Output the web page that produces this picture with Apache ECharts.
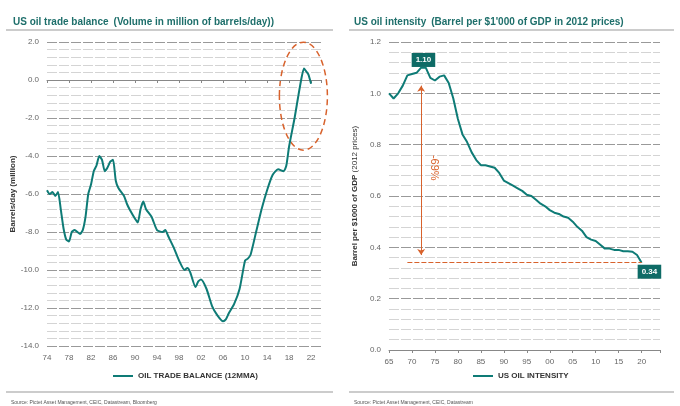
<!DOCTYPE html><html><head><meta charset="utf-8"><script src="https://cdn.jsdelivr.net/npm/echarts@6/dist/echarts.min.js"></script>
<style>html,body{margin:0;padding:0;background:#fff}#c{width:680px;height:406px}</style></head><body><div id="c"></div><script>
const balanceX=[1974,1974.5,1975,1975.5,1976,1976.5,1977,1977.5,1978,1978.5,1979,1980,1980.5,1981,1981.5,1982,1982.5,1983,1983.5,1984,1984.5,1985,1985.5,1986,1986.5,1987,1988,1988.5,1989,1990,1990.5,1991,1991.5,1992,1993,1994,1995,1995.5,1996,1997,1998,1999,1999.5,2000,2001,2001.5,2002,2003,2004,2005,2006,2006.5,2007,2008,2009,2010,2010.5,2011,2012,2013,2014,2015,2016,2017,2017.5,2018,2019,2020,2020.7,2021,2021.5,2022];
const balanceY=[-5.8,-6.0,-5.9,-6.1,-5.9,-6.8,-7.8,-8.4,-8.5,-8.0,-7.9,-8.1,-7.9,-7.2,-6.0,-5.5,-4.8,-4.5,-4.0,-4.2,-4.8,-4.6,-4.3,-4.2,-5.3,-5.7,-6.1,-6.5,-6.8,-7.3,-7.5,-6.8,-6.4,-6.8,-7.2,-7.9,-8.0,-7.9,-8.2,-8.8,-9.5,-10.0,-9.9,-10.1,-10.9,-10.6,-10.5,-11.0,-11.9,-12.4,-12.7,-12.6,-12.3,-11.8,-11.0,-9.5,-9.4,-9.2,-8.0,-6.8,-5.8,-5.0,-4.7,-4.8,-4.5,-3.5,-2.0,-0.3,0.6,0.5,0.3,-0.2];
const intensityX=[];for(let y=1965;y<=2020;y++)intensityX.push(y);
const intensityY=[1.00,0.98,1.00,1.03,1.07,1.075,1.08,1.10,1.10,1.06,1.05,1.065,1.07,1.04,0.98,0.90,0.84,0.81,0.77,0.74,0.72,0.72,0.715,0.71,0.69,0.66,0.65,0.64,0.63,0.62,0.605,0.60,0.585,0.57,0.56,0.545,0.535,0.53,0.52,0.515,0.50,0.48,0.465,0.44,0.43,0.425,0.41,0.395,0.395,0.39,0.39,0.385,0.385,0.383,0.37,0.34];
const teal='#0e7b76',orange='#d8622c',gray='#666',font='Liberation Sans';
const c=echarts.init(document.getElementById('c'));
const yearFmt=(v,max)=>v>=max?'':String(v%100).padStart(2,'0');
function yAx(idx,min,max,iv,name){return{type:'value',gridIndex:idx,min,max,interval:iv,name,nameLocation:'middle',nameGap:30,nameTextStyle:{fontSize:8,fontWeight:'bold',color:'#333',fontFamily:font},
 axisLine:{show:false},axisTick:{show:false},axisLabel:{fontSize:8,color:gray,fontFamily:font,formatter:v=>v.toFixed(1)},
 splitLine:{lineStyle:{color:'#999',width:1.2,type:[10,2]}},minorTick:{show:false,splitNumber:5},minorSplitLine:{show:true,lineStyle:{color:'#d4d4d4',width:1,type:[10,2]}}};}
function xAx(idx,min,max,iv,labMax){return{type:'value',gridIndex:idx,min,max,interval:iv,axisLine:{lineStyle:{color:'#888'}},axisTick:{show:true,length:3,lineStyle:{color:'#888'}},
 axisLabel:{fontSize:8,color:gray,fontFamily:font,formatter:v=>yearFmt(v,labMax)},splitLine:{show:false}};}
c.setOption({animation:false,
 title:[{left:8,top:8,text:'{b|US oil trade balance} {n|(Volume in million of barrels/day))}',textStyle:{rich:{b:{fontSize:10,fontWeight:'bold',color:'#1e6f6b',fontFamily:font},n:{fontSize:10,color:'#1e6f6b',fontFamily:font}}}},
  {left:349,top:8,text:'{b|US oil intensity} {n|(Barrel per $1\'000 of GDP in 2012 prices)}',textStyle:{rich:{b:{fontSize:10,fontWeight:'bold',color:'#1e6f6b',fontFamily:font},n:{fontSize:10,color:'#1e6f6b',fontFamily:font}}}},
  {left:6,top:395,text:'Source: Pictet Asset Management, CEIC, Datastream, Bloomberg',textStyle:{fontSize:5,fontWeight:'normal',color:'#555',fontFamily:font}},
  {left:349,top:395,text:'Source: Pictet Asset Management, CEIC, Datastream',textStyle:{fontSize:5,fontWeight:'normal',color:'#555',fontFamily:font}}],
 legend:[{data:['OIL TRADE BALANCE (12MMA)'],left:108,top:367,icon:'rect',itemWidth:20,itemHeight:2,textStyle:{fontSize:8,fontWeight:'bold',color:'#333',fontFamily:font}},
  {data:['US OIL INTENSITY'],left:468,top:367,icon:'rect',itemWidth:20,itemHeight:2,textStyle:{fontSize:8,fontWeight:'bold',color:'#333',fontFamily:font}}],
 grid:[{left:47,right:359,top:42,bottom:60},{left:389,right:20,top:42,bottom:56}],
 xAxis:[xAx(0,1974,2023.8,4,2023),xAx(1,1965,2024,5,2021)],
 yAxis:[yAx(0,-14,2,2,'Barrels/day (million)'),Object.assign(yAx(1,0,1.2,0.2,''),{name:'{b|Barrel per $1000 of GDP} (2012 prices)',nameTextStyle:{fontSize:8,color:'#333',fontFamily:font,rich:{b:{fontSize:8,fontWeight:'bold',color:'#333',fontFamily:font}}}})],
 series:[{name:'OIL TRADE BALANCE (12MMA)',type:'line',xAxisIndex:0,yAxisIndex:0,data:balanceX.map((x,i)=>[x,balanceY[i]]),showSymbol:false,smooth:0.2,lineStyle:{color:teal,width:2},itemStyle:{color:teal}},
  {name:'US OIL INTENSITY',type:'line',xAxisIndex:1,yAxisIndex:1,data:intensityX.map((x,i)=>[x,intensityY[i]]),showSymbol:false,lineStyle:{color:teal,width:2},itemStyle:{color:teal},
   markLine:{silent:true,animation:false,label:{show:false},lineStyle:{color:orange,width:1},itemStyle:{color:orange},data:[
     [{coord:[1969,0.34],symbol:'none',lineStyle:{color:orange,type:[5,2],width:1.2}},{coord:[2020,0.34],symbol:'none'}],
     [{coord:[1972,1.03],symbol:'arrow',symbolSize:6,lineStyle:{color:orange,type:'solid',width:1},itemStyle:{color:orange}},{coord:[1972,0.37],symbol:'arrow',symbolSize:6,itemStyle:{color:orange}}]]},
   markPoint:{silent:true,symbol:'rect',symbolSize:0,data:[
     {coord:[1974.8,0.71],label:{show:true,formatter:'-69%',rotate:-90,color:orange,fontSize:11,fontFamily:font}},
     {coord:[1972.5,1.13],label:{show:true,formatter:'1.10',color:'#fff',backgroundColor:'#0e6b66',padding:[3,4],fontSize:8,fontWeight:'bold',fontFamily:font}},
     {coord:[2021.7,0.305],label:{show:true,formatter:'0.34',color:'#fff',backgroundColor:'#0e6b66',padding:[3,4],fontSize:8,fontWeight:'bold',fontFamily:font}}]}}]});
const p=c.convertToPixel({xAxisIndex:0,yAxisIndex:0},[2020.6,-0.85]);
c.setOption({graphic:[
 {type:'ellipse',shape:{cx:p[0],cy:p[1],rx:24,ry:54},style:{fill:'none',stroke:orange,lineWidth:1.5,lineDash:[6,4]}},
 {type:'line',shape:{x1:6,y1:30,x2:333,y2:30},style:{stroke:'#999',lineWidth:1}},
 {type:'line',shape:{x1:349,y1:30,x2:674,y2:30},style:{stroke:'#999',lineWidth:1}},
 {type:'line',shape:{x1:6,y1:392,x2:333,y2:392},style:{stroke:'#999',lineWidth:1}},
 {type:'line',shape:{x1:349,y1:392,x2:674,y2:392},style:{stroke:'#999',lineWidth:1}}]});
</script></body></html>
